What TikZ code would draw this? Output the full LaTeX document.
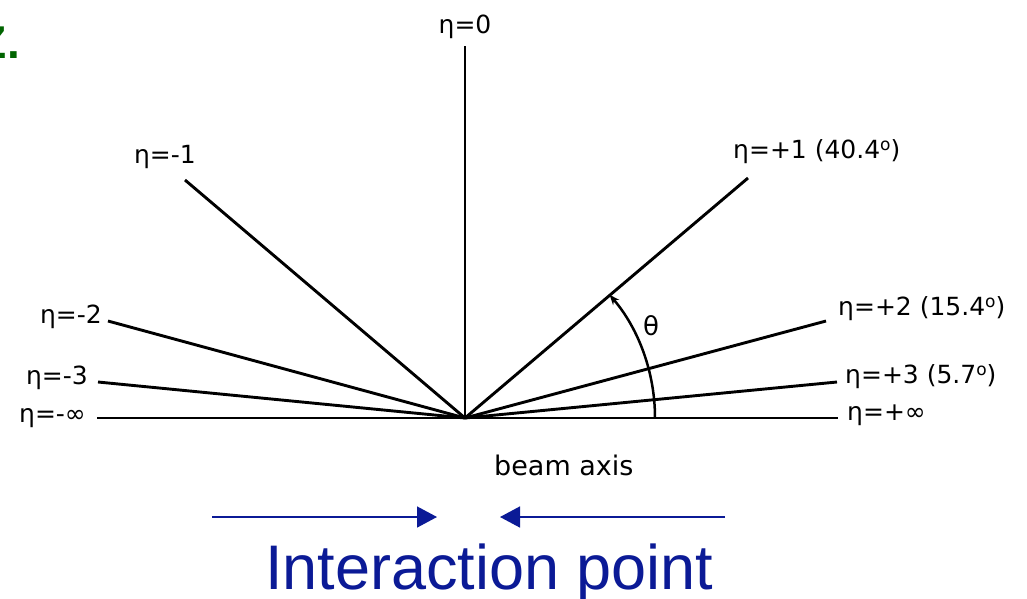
\documentclass[tikz,border=0pt]{standalone}
\usepackage{fontspec}
\setmainfont{DejaVu Sans}
\newfontfamily\arialf{Liberation Sans}
\usetikzlibrary{arrows.meta}
\definecolor{ipblue}{HTML}{0B1A96}
\definecolor{zgreen}{HTML}{006400}
\newcommand{\dego}{\raisebox{8pt}{\fontsize{17}{17}\selectfont o}}
\begin{document}
\begin{tikzpicture}[x=1pt,y=-1pt,
  ray/.style={line width=2.9pt,black},
  lbl/.style={inner sep=0pt,font=\fontsize{25}{28}\selectfont},
  beamarrow/.style={draw=ipblue,line width=1.5pt,-{Triangle[length=20pt,width=21pt]}}]
\useasboundingbox (0,0) rectangle (1027,598);
\fill[white] (0,0) rectangle (1027,598);
% green fragment
\node[anchor=base east,inner sep=0pt,text=zgreen,font=\arialf\bfseries\fontsize{46}{46}\selectfont] (zt) at (20,58) {Z.};
% origin and ray ends
\coordinate (O) at (465,418);
\coordinate (e0) at (465,46);
\coordinate (ep1) at (748,178);
\coordinate (ep2) at (826,321);
\coordinate (ep3) at (837,382);
\coordinate (epinf) at (838,418);
\coordinate (em1) at (185,180);
\coordinate (em2) at (108,321);
\coordinate (em3) at (98,382);
\coordinate (eminf) at (97,418);
\draw[ray] (eminf) -- (O) -- (epinf);
\draw[ray] (O) -- (e0);
\draw[ray] (O) -- (ep1);
\draw[ray] (O) -- (ep2);
\draw[ray] (O) -- (ep3);
\draw[ray] (O) -- (em1);
\draw[ray] (O) -- (em2);
\draw[ray] (O) -- (em3);
% theta arc
\coordinate (a0) at (655,418);
\draw[line width=2.5pt,-{Stealth[length=10pt,width=8pt]}] (a0) arc[start angle=0,end angle=-40.4,radius=190];
\node[inner sep=0pt,font=\fontsize{26}{28}\selectfont] (th) at (651,326) {θ};
% labels
\node[lbl,anchor=base] (l0) at (465,33) {η=0};
\node[lbl,anchor=base west] (lp1) at (733,158) {η=+1 (40.4\dego)};
\node[lbl,anchor=base east] (lm1) at (196,163) {η=-1};
\node[lbl,anchor=base east] (lm2) at (102,323) {η=-2};
\node[lbl,anchor=base east] (lm3) at (88,384) {η=-3};
\node[lbl,anchor=base east] (lminf) at (86,422) {η=-∞};
\node[lbl,anchor=base west] (lp2) at (838,315) {η=+2 (15.4\dego)};
\node[lbl,anchor=base west] (lp3) at (845,383) {η=+3 (5.7\dego)};
\node[lbl,anchor=base west] (lpinf) at (847,420) {η=+∞};
\node[inner sep=0pt,anchor=base west,font=\fontsize{27}{30}\selectfont] (beam) at (494,475) {beam axis};
% interaction point arrows
\coordinate (la) at (212,517);
\coordinate (lb) at (437,517);
\coordinate (ra) at (725,517);
\coordinate (rb) at (500,517);
\draw[beamarrow] (la) -- (lb);
\draw[beamarrow] (ra) -- (rb);
\node[inner sep=0pt,anchor=base west,text=ipblue,font=\arialf\fontsize{63}{66}\selectfont] (ip) at (265,589) {Interaction point};
\end{tikzpicture}
\end{document}
